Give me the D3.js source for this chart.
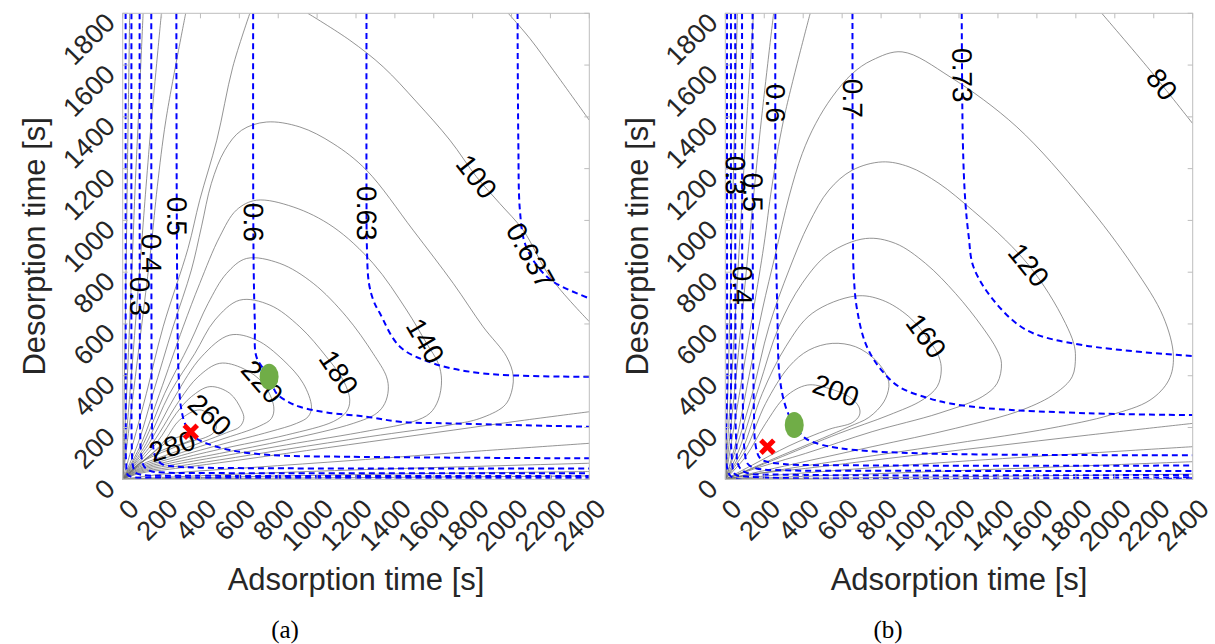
<!DOCTYPE html>
<html>
<head>
<meta charset="utf-8">
<script src="https://cdn.jsdelivr.net/npm/d3@7"></script>
<style>
  body { margin: 0; background: #fff; }
  svg { display: block; }
</style>
</head>
<body>
<svg id="chart" width="1215" height="644"></svg>
<script>
// ---------------- data ----------------
const adsorptionTicks = [0, 200, 400, 600, 800, 1000, 1200, 1400, 1600, 1800, 2000, 2200, 2400];
const desorptionTicks = [0, 200, 400, 600, 800, 1000, 1200, 1400, 1600, 1800];

// Productivity contours, panel (a): [adsorption s, desorption s] polylines per level
const productivityA = [
  { level: 20, paths: [
    [[0,0],[9,396],[19,898],[23,1130],[28,1387],[36,1800]],
    [[2400,13],[0,0]] ] },
  { level: 40, paths: [
    [[0,0],[24,396],[52,898],[64,1130],[80,1387],[105,1800]],
    [[2400,30],[1185,18],[0,0]] ] },
  { level: 60, paths: [
    [[0,0],[44,396],[96,898],[120,1130],[148,1387],[199,1800]],
    [[2400,62],[1185,36],[499,17],[0,0]] ] },
  { level: 80, paths: [
    [[0,0],[65,396],[146,898],[178,1130],[222,1387],[324,1800]],
    [[1983,1800],[2095,1702],[2215,1580],[2400,1387]],
    [[2400,139],[1700,102],[1185,73],[671,46],[242,23],[0,0]] ] },
  { level: 100, paths: [
    [[0,0],[53,139],[122,332],[208,589],[336,892],[396,1078],[484,1310],[566,1592],[654,1800]],
    [[952,1800],[1168,1696],[1340,1593],[1511,1458],[1683,1310],[1820,1168],[1940,1065],[2060,962],[2198,782],[2400,609]],
    [[2400,261],[2043,226],[1700,190],[1271,145],[842,100],[499,64],[242,39],[88,23],[0,0]] ] },
  { level: 120, paths: [
    [[0,0],[79,139],[156,332],[259,589],[353,808],[405,975],[456,1143],[525,1271],[611,1348],[739,1380],[911,1361],[1082,1297],[1254,1194],[1494,962],[1700,757],[1854,589],[1975,473],[2009,396],[1992,319],[1957,280],[1837,235],[1700,212],[1271,165],[842,116],[499,75],[242,46],[88,27],[0,0]] ] },
  { level: 140, paths: [
    [[0,0],[96,139],[190,332],[311,589],[396,756],[499,937],[585,1040],[688,1078],[877,1052],[1082,975],[1288,834],[1460,654],[1563,525],[1623,448],[1640,383],[1623,306],[1580,255],[1494,223],[1271,188],[842,133],[499,88],[242,54],[88,31],[0,0]] ] },
  { level: 160, paths: [
    [[0,0],[108,139],[216,332],[345,525],[439,679],[534,795],[637,853],[808,834],[980,757],[1151,628],[1288,486],[1357,396],[1366,345],[1348,293],[1306,255],[1186,216],[842,152],[499,100],[242,62],[88,35],[0,0]] ] },
  { level: 180, paths: [
    [[0,0],[122,139],[242,332],[371,486],[474,615],[602,692],[757,673],[911,589],[1048,473],[1134,383],[1168,306],[1151,261],[1083,223],[842,171],[499,116],[242,70],[88,39],[0,0]] ] },
  { level: 200, paths: [
    [[0,0],[136,139],[268,319],[405,473],[551,557],[688,538],[825,461],[928,371],[971,280],[954,242],[894,216],[757,184],[499,133],[242,79],[88,43],[0,0]] ] },
  { level: 220, paths: [
    [[0,0],[153,139],[293,306],[388,396],[499,448],[619,428],[722,371],[777,280],[765,235],[705,206],[499,152],[242,88],[88,48],[0,0]] ] },
  { level: 240, paths: [
    [[0,0],[173,139],[276,255],[353,319],[448,358],[551,332],[611,268],[623,235],[602,203],[534,180],[413,145],[242,98],[88,53],[0,0]] ] },
  { level: 260, paths: [
    [[0,0],[204,139],[293,229],[396,268],[456,242],[482,203],[465,178],[413,158],[362,149],[242,116],[88,62],[0,0]] ] },
  { level: 280, paths: [
    [[0,0],[88,61],[156,102],[242,150],[311,166],[353,155],[319,141],[242,124],[156,95],[88,61],[0,0]] ] }
];

// Purity contours, panel (a)
const purityA = [
  { level: 0.1, paths: [[[15,1800],[16,300],[18,60],[25,18],[50,9],[200,7],[2400,6]]] },
  { level: 0.2, paths: [[[45,1800],[45,400],[47,120],[52,55],[65,27],[100,17],[300,14],[2400,13]]] },
  { level: 0.3, paths: [[[87,1800],[88,500],[90,180],[96,90],[110,50],[140,33],[220,26],[500,24],[2400,23]]] },
  { level: 0.4, paths: [[[147,1800],[148,600],[150,250],[156,130],[170,85],[200,60],[260,50],[400,45],[2400,42]]] },
  { level: 0.5, paths: [[[276,1800],[280,782],[288,396],[302,268],[328,203],[379,158],[431,139],[551,113],[757,94],[1168,87],[2400,81]]] },
  { level: 0.6, paths: [[[671,1800],[671,1200],[674,800],[680,600],[688,473],[753,396],[791,332],[850,300],[911,280],[1050,258],[1254,242],[1426,222],[1683,216],[2400,203]]] },
  { level: 0.63, paths: [[[1254,1800],[1254,1100],[1256,900],[1266,760],[1290,690],[1323,641],[1426,512],[1597,448],[1854,409],[2400,396]]] },
  { level: 0.637, paths: [[[2031,1800],[2035,1300],[2043,1040],[2069,911],[2129,827],[2215,763],[2400,699]]] }
];

// Productivity contours, panel (b)
const productivityB = [
  { level: 20, paths: [
    [[0,0],[15,396],[32,898],[40,1130],[48,1387],[62,1800]],
    [[2400,20],[0,0]] ] },
  { level: 40, paths: [
    [[0,0],[33,396],[72,898],[90,1130],[110,1387],[145,1800]],
    [[2400,68],[1182,33],[0,0]] ] },
  { level: 60, paths: [
    [[0,0],[55,396],[120,898],[150,1130],[185,1387],[248,1800]],
    [[2400,126],[1182,68],[498,30],[0,0]] ] },
  { level: 80, paths: [
    [[0,0],[87,396],[197,898],[239,1130],[299,1387],[436,1800]],
    [[1933,1800],[2181,1580],[2400,1374]],
    [[2400,216],[1866,171],[1353,126],[840,81],[412,42],[156,21],[0,0]] ] },
  { level: 100, paths: [
    [[0,0],[53,139],[121,396],[190,654],[258,872],[327,1091],[395,1258],[464,1374],[549,1477],[652,1567],[754,1619],[908,1651],[1155,1554],[1497,1361],[1839,1078],[2096,821],[2249,628],[2301,476],[2277,383],[2181,306],[1976,248],[1668,197],[1182,139],[669,81],[327,42],[0,0]] ] },
  { level: 120, paths: [
    [[0,0],[53,113],[139,332],[224,589],[327,808],[429,988],[532,1117],[652,1194],[806,1226],[943,1207],[1097,1143],[1268,1040],[1439,924],[1558,827],[1661,718],[1747,602],[1789,525],[1798,473],[1781,396],[1695,332],[1524,268],[1182,197],[754,126],[327,55],[0,0]] ] },
  { level: 140, paths: [
    [[0,0],[70,113],[173,358],[275,589],[395,757],[532,872],[720,930],[874,911],[1028,834],[1182,718],[1319,589],[1396,499],[1418,448],[1396,371],[1319,319],[1097,255],[754,184],[412,100],[156,42],[0,0]] ] },
  { level: 160, paths: [
    [[0,0],[87,113],[190,332],[310,512],[446,641],[669,708],[806,692],[943,628],[1045,538],[1097,473],[1109,422],[1088,358],[1011,306],[840,248],[583,177],[293,88],[121,36],[0,0]] ] },
  { level: 180, paths: [
    [[0,0],[104,113],[207,293],[327,435],[429,499],[549,525],[669,512],[771,461],[831,396],[840,358],[814,299],[737,239],[635,203],[498,158],[275,88],[121,38],[0,0]] ] },
  { level: 200, paths: [
    [[0,0],[104,87],[207,216],[309,319],[421,364],[532,351],[635,319],[686,280],[689,248],[652,219],[532,193],[327,129],[139,55],[0,0]] ] }
];

// Purity contours, panel (b)
const purityB = [
  { level: 0.1, paths: [[[9,1800],[10,400],[14,30],[40,6],[2400,4]]] },
  { level: 0.2, paths: [[[29,1800],[30,500],[34,80],[50,20],[120,10],[2400,8]]] },
  { level: 0.3, paths: [[[51,1800],[52,600],[56,150],[70,50],[110,25],[300,18],[2400,17]]] },
  { level: 0.4, paths: [[[86,1800],[87,800],[90,300],[98,120],[115,60],[160,42],[300,35],[800,33],[2400,32]]] },
  { level: 0.5, paths: [[[140,1800],[142,654],[147,268],[154,139],[173,87],[197,72],[299,59],[669,54],[2400,53]]] },
  { level: 0.6, paths: [[[257,1800],[258,1040],[267,654],[279,396],[310,280],[354,210],[412,158],[498,133],[669,113],[1011,100],[1695,94],[2400,93]]] },
  { level: 0.7, paths: [[[653,1800],[655,1040],[660,782],[677,654],[720,525],[788,435],[891,358],[1045,313],[1155,293],[1353,274],[1866,255],[2400,248]]] },
  { level: 0.73, paths: [[[1214,1800],[1220,1297],[1232,1078],[1250,937],[1274,821],[1377,692],[1548,576],[1839,518],[2400,476]]] }
];

// Contour labels: [level, adsorption s, desorption s]
const productivityLabelsA = [[100,1820,1168],[140,1537,525],[180,1091,403],[220,691,358],[260,427,232],[280,250,139]];
const purityLabelsA = [[0.3,62,705],[0.4,151,872],[0.5,268,1014],[0.6,666,994],[0.63,1245,1027],[0.637,2086,859]];
const productivityLabelsB = [[80,2239,1526],[120,1558,827],[160,1011,544],[200,558,319]];
const purityLabelsB = [[0.3,32,1175],[0.4,73,750],[0.5,130,1110],[0.6,250,1451],[0.7,643,1471],[0.73,1213,1561]];

// Marked operating points: [adsorption s, desorption s]
const optimumA = [753, 396];
const referenceA = [350, 184];
const optimumB = [354, 210];
const referenceB = [216, 126];

// ---------------- drawing ----------------
const SANS = "'Liberation Sans', Arial, Helvetica, sans-serif";
const SERIF = "'Liberation Serif', 'Times New Roman', serif";
const svg = d3.select("#chart");
svg.append("rect").attr("width", 1215).attr("height", 644).attr("fill", "#fff");

const panels = [
  { key: "a", left: 122.7, right: 589.3, caption: "(a)", captionX: 285, ytitleX: 45,
    productivity: productivityA, purity: purityA,
    prodLabels: productivityLabelsA, purLabels: purityLabelsA,
    optimum: optimumA, reference: referenceA },
  { key: "b", left: 725.3, right: 1192.7, caption: "(b)", captionX: 888, ytitleX: 648,
    productivity: productivityB, purity: purityB,
    prodLabels: productivityLabelsB, purLabels: purityLabelsB,
    optimum: optimumB, reference: referenceB }
];
const plotTop = 13.3, plotBottom = 479.3;

panels.forEach(p => {
  const x = d3.scaleLinear().domain([0, 2400]).range([p.left, p.right]);
  const y = d3.scaleLinear().domain([0, 1800]).range([plotBottom, plotTop]);
  const g = svg.append("g").style("font-family", SANS);

  const clipId = "clip-" + p.key;
  svg.append("clipPath").attr("id", clipId)
    .append("rect").attr("x", p.left).attr("y", plotTop)
    .attr("width", p.right - p.left).attr("height", plotBottom - plotTop);

  const line = d3.line().x(d => x(d[0])).y(d => y(d[1]))
    .curve(d3.curveCatmullRom.alpha(0.5));

  const plot = g.append("g").attr("clip-path", `url(#${clipId})`);

  // productivity (grey, solid)
  const prodPaths = {};
  p.productivity.forEach(c => {
    prodPaths[c.level] = c.paths.map(pts =>
      plot.append("path").attr("d", line(pts))
        .attr("fill", "none").attr("stroke", "#707070").attr("stroke-width", 0.75).node());
  });
  // purity (blue, dashed)
  const purPaths = {};
  p.purity.forEach(c => {
    purPaths[c.level] = c.paths.map(pts =>
      plot.append("path").attr("d", line(pts))
        .attr("fill", "none").attr("stroke", "#0000ff").attr("stroke-width", 2)
        .attr("stroke-dasharray", "6,4").node());
  });

  // frame and ticks
  g.append("rect").attr("x", p.left).attr("y", plotTop)
    .attr("width", p.right - p.left).attr("height", plotBottom - plotTop)
    .attr("fill", "none").attr("stroke", "#bdbdbd").attr("stroke-width", 1);
  const tickLen = 5;
  adsorptionTicks.forEach(t => {
    g.append("line").attr("x1", x(t)).attr("x2", x(t)).attr("y1", plotBottom).attr("y2", plotBottom - tickLen)
      .attr("stroke", "#bdbdbd");
    g.append("line").attr("x1", x(t)).attr("x2", x(t)).attr("y1", plotTop).attr("y2", plotTop + tickLen)
      .attr("stroke", "#bdbdbd");
    g.append("text").attr("transform", `translate(${x(t) + 18},${plotBottom + 31}) rotate(-45)`)
      .attr("text-anchor", "end").attr("font-size", 27).attr("fill", "#262626").text(t);
  });
  desorptionTicks.forEach(t => {
    g.append("line").attr("x1", p.left).attr("x2", p.left + tickLen).attr("y1", y(t)).attr("y2", y(t))
      .attr("stroke", "#bdbdbd");
    g.append("line").attr("x1", p.right).attr("x2", p.right - tickLen).attr("y1", y(t)).attr("y2", y(t))
      .attr("stroke", "#bdbdbd");
    g.append("text").attr("transform", `translate(${p.left - 6},${y(t) + 11}) rotate(-45)`)
      .attr("text-anchor", "end").attr("font-size", 27).attr("fill", "#262626").text(t);
  });

  // axis titles and caption
  g.append("text").attr("x", (p.left + p.right) / 2).attr("y", 590)
    .attr("text-anchor", "middle").attr("font-size", 31).attr("fill", "#262626")
    .text("Adsorption time [s]");
  g.append("text").attr("transform", `translate(${p.ytitleX},${(plotTop + plotBottom) / 2}) rotate(-90)`)
    .attr("text-anchor", "middle").attr("font-size", 31).attr("fill", "#262626")
    .text("Desorption time [s]");
  g.append("text").attr("x", p.captionX).attr("y", 638)
    .attr("text-anchor", "middle").attr("font-size", 25)
    .style("font-family", SERIF).attr("fill", "#000")
    .text(p.caption);

  // inline contour labels, placed on the nearest point of the contour and aligned with it
  function place(nodes, px, py) {
    let best = null, bd = Infinity;
    nodes.forEach(n => {
      const L = n.getTotalLength();
      for (let s = 0; s <= L; s += 1) {
        const q = n.getPointAtLength(s);
        const d = (q.x - px) ** 2 + (q.y - py) ** 2;
        if (d < bd) { bd = d; best = { n, s, L }; }
      }
    });
    const q = best.n.getPointAtLength(best.s);
    const a = best.n.getPointAtLength(Math.max(0, best.s - 8));
    const b = best.n.getPointAtLength(Math.min(best.L, best.s + 8));
    let ang = Math.atan2(b.y - a.y, b.x - a.x) * 180 / Math.PI;
    if (ang > 90) ang -= 180;
    if (ang <= -90) ang += 180;
    return { x: q.x, y: q.y, ang };
  }
  const labelLayer = g.append("g");
  function addLabels(list, paths) {
    list.forEach(([lv, ta, td]) => {
      const pos = place(paths[lv], x(ta), y(td));
      labelLayer.append("text")
        .attr("transform", `translate(${pos.x},${pos.y}) rotate(${pos.ang})`)
        .attr("text-anchor", "middle").attr("dominant-baseline", "central")
        .attr("font-size", 28).attr("fill", "#000").text(String(lv));
    });
  }
  addLabels(p.prodLabels, prodPaths);
  addLabels(p.purLabels, purPaths);

  // markers
  g.append("ellipse").attr("cx", x(p.optimum[0])).attr("cy", y(p.optimum[1]))
    .attr("rx", 9.5).attr("ry", 13).attr("fill", "#70ad47");
  const rx = x(p.reference[0]), ry = y(p.reference[1]), s = 6.5;
  const xg = g.append("g").attr("stroke", "#ff0000").attr("stroke-width", 5);
  xg.append("line").attr("x1", rx - s).attr("y1", ry - s).attr("x2", rx + s).attr("y2", ry + s);
  xg.append("line").attr("x1", rx - s).attr("y1", ry + s).attr("x2", rx + s).attr("y2", ry - s);
});
</script>
</body>
</html>
